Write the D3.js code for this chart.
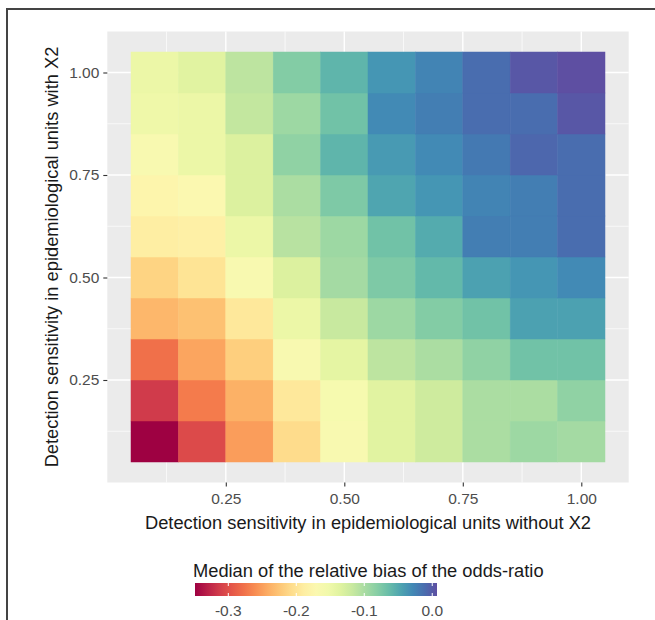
<!DOCTYPE html>
<html>
<head>
    <meta charset="UTF-8">
    <title>Median relative bias heatmap</title>
    <style>
        body { margin: 0; background: #fff; }
        svg { display: block; font-family: "Liberation Sans", Arial, sans-serif; }
    </style>
</head>
<body>
<script src="https://cdn.jsdelivr.net/npm/d3@7"></script>
<script>
    // detection sensitivity levels (x: units without X2, y: units with X2)
    var sensWithout = [0.1, 0.2, 0.3, 0.4, 0.5, 0.6, 0.7, 0.8, 0.9, 1.0];
    var sensWith = [0.1, 0.2, 0.3, 0.4, 0.5, 0.6, 0.7, 0.8, 0.9, 1.0];

    // median relative bias, one row per "with X2" level (0.1 .. 1.0)
    var bias01 = [-0.349, -0.304, -0.251, -0.207, -0.164, -0.136, -0.122, -0.101, -0.093, -0.097];
    var bias02 = [-0.314, -0.271, -0.239, -0.196, -0.161, -0.136, -0.122, -0.101, -0.101, -0.086];
    var bias03 = [-0.278, -0.246, -0.218, -0.164, -0.140, -0.111, -0.101, -0.086, -0.069, -0.069];
    var bias04 = [-0.235, -0.228, -0.196, -0.147, -0.118, -0.093, -0.079, -0.069, -0.044, -0.044];
    var bias05 = [-0.214, -0.200, -0.164, -0.132, -0.097, -0.076, -0.061, -0.044, -0.037, -0.030];
    var bias06 = [-0.189, -0.186, -0.147, -0.108, -0.093, -0.069, -0.051, -0.022, -0.022, -0.012];
    var bias07 = [-0.179, -0.172, -0.132, -0.101, -0.076, -0.047, -0.037, -0.026, -0.022, -0.012];
    var bias08 = [-0.164, -0.147, -0.132, -0.086, -0.058, -0.040, -0.030, -0.019, -0.008, -0.012];
    var bias09 = [-0.150, -0.147, -0.115, -0.093, -0.069, -0.030, -0.022, -0.012, -0.012, 0.002];
    var bias10 = [-0.147, -0.136, -0.111, -0.079, -0.058, -0.037, -0.026, -0.012, 0.002, 0.007];
    var biasRows = [bias01, bias02, bias03, bias04, bias05, bias06, bias07, bias08, bias09, bias10];

    var axisTicks = [0.25, 0.5, 0.75, 1.0];
    var minorTicks = [0.125, 0.375, 0.625, 0.875];
    var legendTicks = [-0.3, -0.2, -0.1, 0.0];

    var W = 655, H = 620;
    var panel = {left: 107.3, right: 628.7, top: 31.5, bottom: 482.5};
    var tickFont = "15.5px", titleFont = "18.3px";

    var cells = [];
    biasRows.forEach(function(row, i) {
        row.forEach(function(v, j) {
            cells.push({x: sensWithout[j], y: sensWith[i], value: v});
        });
    });

    var x = d3.scaleLinear().domain([0, 1.1]).range([panel.left, panel.right]);
    var y = d3.scaleLinear().domain([0, 1.1]).range([panel.bottom, panel.top]);

    var extent = d3.extent(cells, (d) => d.value);
    var color = d3.scaleSequential(d3.interpolateSpectral).domain(extent);

    var svg = d3.select("body").append("svg")
        .attr("width", W)
        .attr("height", H);

    // figure frame (top and left edges only)
    svg.append("path")
        .attr("d", "M7,620 L7,9 L655,9")
        .attr("fill", "none")
        .attr("stroke", "#444")
        .attr("stroke-width", 2);

    // panel background and grid
    svg.append("rect")
        .attr("x", panel.left).attr("y", panel.top)
        .attr("width", panel.right - panel.left)
        .attr("height", panel.bottom - panel.top)
        .attr("fill", "#ebebeb");

    var grid = svg.append("g");
    grid.selectAll(".vminor").data(minorTicks).enter().append("line")
        .attr("x1", (d) => x(d)).attr("x2", (d) => x(d))
        .attr("y1", panel.top).attr("y2", panel.bottom)
        .attr("stroke", "#fff").attr("stroke-width", 0.7);
    grid.selectAll(".hminor").data(minorTicks).enter().append("line")
        .attr("y1", (d) => y(d)).attr("y2", (d) => y(d))
        .attr("x1", panel.left).attr("x2", panel.right)
        .attr("stroke", "#fff").attr("stroke-width", 0.7);
    grid.selectAll(".vmajor").data(axisTicks).enter().append("line")
        .attr("x1", (d) => x(d)).attr("x2", (d) => x(d))
        .attr("y1", panel.top).attr("y2", panel.bottom)
        .attr("stroke", "#fff").attr("stroke-width", 1.4);
    grid.selectAll(".hmajor").data(axisTicks).enter().append("line")
        .attr("y1", (d) => y(d)).attr("y2", (d) => y(d))
        .attr("x1", panel.left).attr("x2", panel.right)
        .attr("stroke", "#fff").attr("stroke-width", 1.4);

    // tiles
    svg.append("g").selectAll("rect")
        .data(cells)
        .enter().append("rect")
        .attr("x", (d) => x(d.x - 0.05))
        .attr("y", (d) => y(d.y + 0.05))
        .attr("width", (d) => x(d.x + 0.05) - x(d.x - 0.05))
        .attr("height", (d) => y(d.y - 0.05) - y(d.y + 0.05))
        .attr("fill", (d) => color(d.value))
        .attr("stroke", (d) => color(d.value))
        .attr("stroke-width", 0.5);

    // axes
    var xAxis = d3.axisBottom(x).tickValues(axisTicks).tickFormat(d3.format(".2f"))
        .tickSize(4).tickPadding(6);
    var yAxis = d3.axisLeft(y).tickValues(axisTicks).tickFormat(d3.format(".2f"))
        .tickSize(4).tickPadding(4);

    var gx = svg.append("g")
        .attr("transform", `translate(0,${panel.bottom})`)
        .call(xAxis);
    var gy = svg.append("g")
        .attr("transform", `translate(${panel.left},0)`)
        .call(yAxis);
    [gx, gy].forEach(function(g) {
        g.attr("font-family", null).attr("font-size", null);
        g.select(".domain").remove();
        g.selectAll(".tick line").attr("stroke", "#333").attr("stroke-width", 1.1);
        g.selectAll(".tick text")
            .attr("fill", "#4d4d4d")
            .style("font-size", tickFont);
    });

    svg.append("text")
        .attr("x", (panel.left + panel.right) / 2)
        .attr("y", 529)
        .attr("text-anchor", "middle")
        .attr("fill", "#1a1a1a")
        .style("font-size", titleFont)
        .text("Detection sensitivity in epidemiological units without X2");

    svg.append("text")
        .attr("transform", `translate(58,${(panel.top + panel.bottom) / 2}) rotate(-90)`)
        .attr("text-anchor", "middle")
        .attr("fill", "#1a1a1a")
        .style("font-size", titleFont)
        .text("Detection sensitivity in epidemiological units with X2");

    // colour bar legend
    var lx = d3.scaleLinear().domain(extent).range([195, 437]);
    var defs = svg.append("defs");
    var grad = defs.append("linearGradient")
        .attr("id", "bias-gradient")
        .attr("x1", "0%").attr("x2", "100%").attr("y1", "0%").attr("y2", "0%");
    grad.selectAll("stop")
        .data(d3.range(0, 1.0001, 0.05))
        .enter().append("stop")
        .attr("offset", (d) => (d * 100) + "%")
        .attr("stop-color", (d) => d3.interpolateSpectral(d));

    svg.append("text")
        .attr("x", 193)
        .attr("y", 577)
        .attr("fill", "#1a1a1a")
        .style("font-size", titleFont)
        .text("Median of the relative bias of the odds-ratio");

    svg.append("rect")
        .attr("x", lx(extent[0])).attr("y", 583)
        .attr("width", lx(extent[1]) - lx(extent[0]))
        .attr("height", 13)
        .attr("fill", "url(#bias-gradient)");

    var lt = svg.append("g");
    lt.selectAll(".ltop").data(legendTicks).enter().append("line")
        .attr("x1", (d) => lx(d)).attr("x2", (d) => lx(d))
        .attr("y1", 583).attr("y2", 586)
        .attr("stroke", "#fff").attr("stroke-width", 1);
    lt.selectAll(".lbot").data(legendTicks).enter().append("line")
        .attr("x1", (d) => lx(d)).attr("x2", (d) => lx(d))
        .attr("y1", 593).attr("y2", 596)
        .attr("stroke", "#fff").attr("stroke-width", 1);
    lt.selectAll("text").data(legendTicks).enter().append("text")
        .attr("x", (d) => lx(d))
        .attr("y", 616)
        .attr("text-anchor", "middle")
        .attr("fill", "#4d4d4d")
        .style("font-size", tickFont)
        .text((d) => d3.format(".1f")(d).replace("\u2212", "-"));
</script>
</body>
</html>
